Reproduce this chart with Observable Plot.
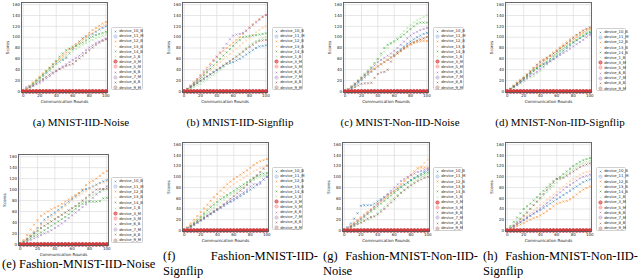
<!DOCTYPE html>
<html><head><meta charset="utf-8">
<script src="https://cdn.jsdelivr.net/npm/d3@7"></script>
<script src="https://cdn.jsdelivr.net/npm/@observablehq/plot@0.6"></script>
<style>
body{margin:0;width:640px;height:279px;background:#fff;position:relative;overflow:hidden;font-family:"DejaVu Sans",sans-serif;}
.panel{position:absolute;}
.panel svg{overflow:visible;}
.legend{position:absolute;box-sizing:border-box;border:0.6px solid #d0d0d0;border-radius:1.5px;background:#fff;padding:0.5px 0 0 1px;}
.legend .row{display:flex;align-items:center;white-space:nowrap;font-size:3.8px;color:#222;line-height:1;}
.legend svg{flex:none;margin-right:1.2px;}
.cap{position:absolute;font-family:"Liberation Serif",serif;font-size:11px;color:#000;white-space:nowrap;}
.cap.bottom{font-size:12.5px;}
.cap .l1{display:flex;justify-content:space-between;}
</style></head><body>
<script>
const rounds = [0,4,8,12,16,20,24,28,32,36,40,44,48,52,56,60,64,68,72,76,80,84,88,92,96,100];
const benign = ["device_10_B","device_12_B","device_13_B","device_14_B","device_1_B","device_6_B","device_8_B"];
const malicious = ["device_11_M","device_5_M","device_7_M","device_9_M","device_3_M"];
const legendOrder = ["device_10_B","device_11_M","device_12_B","device_13_B","device_14_B","device_1_B","device_3_M","device_5_M","device_6_B","device_7_M","device_8_B","device_9_M"];
const colors = ["#1f77b4","#aec7e8","#ff7f0e","#ffbb78","#2ca02c","#98df8a","#d62728","#ff9896","#9467bd","#c5b0d5","#8c564b","#c49c94"];
const xTicks = [0,20,40,60,80,100];
const yTicks = [0,20,40,60,80,100,120,140,160];
const malScores = [0,0,0,0,0,0,0,0,0,0,0,0,0,0,0,0,0,0,0,0,0,0,0,0,0,0];

// rows follow the order of `benign`
const scoresA = [
 [0,4,9,14,19,24,29,34,39,45,51,55,58,62,70,78,85,92,98,101,103,106,110,114,117,120],
 [0,5,10,16,21,27,33,38,44,50,55,60,66,72,78,83,88,92,97,102,108,113,117,121,125,128],
 [0,6,11,17,22,27,32,37,42,48,53,58,63,68,73,79,84,89,94,99,104,108,112,116,120,123],
 [0,4,9,14,19,25,31,37,43,50,56,64,70,76,79,81,84,87,90,94,98,101,104,106,108,110],
 [0,4,8,13,18,23,28,33,38,44,50,55,60,65,70,74,78,82,86,89,92,95,98,100,103,105],
 [0,8,9,10,13,16,20,24,28,33,37,42,46,50,54,58,62,66,71,76,81,85,89,92,95,97],
 [0,3,7,11,15,19,23,27,31,35,38,41,44,47,49,51,56,61,66,71,76,81,86,90,93,96]];
const scoresB = [
 [0,3,7,11,15,19,23,27,31,35,39,43,47,51,52,54,57,60,64,68,72,76,80,83,84,85],
 [0,5,11,17,23,30,37,44,51,58,64,70,75,80,85,90,95,100,106,112,118,124,129,134,138,141],
 [0,4,9,14,19,24,29,34,39,44,49,54,59,64,69,74,79,84,89,94,99,104,109,113,117,120],
 [0,4,9,14,19,24,30,36,42,48,54,60,66,72,78,84,90,95,100,101,102,103,104,105,106,107],
 [0,2,5,8,11,14,18,22,26,30,35,40,45,50,55,60,65,70,75,80,85,89,93,96,98,100],
 [0,5,10,16,22,28,34,40,48,56,64,72,80,88,96,103,105,106,108,112,117,122,127,132,137,141],
 [0,4,8,12,16,20,24,28,32,36,40,44,48,52,56,60,64,68,73,78,82,86,90,93,94,95]];
const scoresC = [
 [0,3,7,11,16,21,26,31,36,41,46,50,54,58,63,68,73,78,83,88,92,96,100,103,106,108],
 [0,4,9,14,19,24,29,34,38,42,46,50,54,58,62,66,70,74,78,82,86,89,91,92,93,93],
 [0,5,10,15,20,25,30,35,39,43,47,51,55,59,63,67,71,75,79,83,87,90,93,95,97,100],
 [0,3,8,13,19,25,31,37,44,52,60,70,80,86,89,92,96,100,105,110,115,120,125,127,127,127],
 [0,4,9,15,21,27,33,39,45,52,59,66,73,80,87,93,99,105,111,117,122,127,131,134,137,140],
 [0,4,9,14,19,24,30,36,42,48,54,58,62,66,70,75,80,86,92,98,103,107,110,113,115,117],
 [0,2,5,8,11,14,15,15,16,25,32,35,36,40,55,65,70,75,80,84,88,91,94,96,98,100]];
const scoresD = [
 [0,4,8,12,17,22,27,32,37,42,46,50,53,56,60,65,70,75,80,85,90,94,98,102,105,108],
 [0,5,10,15,20,25,30,35,40,45,50,55,60,65,70,75,80,84,88,92,96,100,104,108,112,115],
 [0,5,11,17,22,27,32,38,44,50,56,60,63,67,72,77,82,87,92,97,101,105,109,113,116,118],
 [0,4,9,14,19,24,29,34,39,43,47,51,55,60,65,70,75,79,83,87,91,95,99,103,107,110],
 [0,3,7,11,15,20,24,26,28,33,38,44,50,56,62,68,74,79,84,88,92,96,100,104,108,112],
 [0,4,8,12,16,20,24,28,32,36,41,46,51,55,59,63,67,71,75,79,83,87,91,95,100,104],
 [0,5,10,15,20,25,31,37,43,49,54,58,62,66,70,74,79,84,89,94,99,104,108,112,115,118]];
const scoresE = [
 [0,4,9,15,22,30,38,45,50,54,58,63,68,73,78,83,88,93,98,101,103,106,109,112,115,117],
 [0,8,17,27,36,44,52,56,60,64,67,70,74,78,82,86,90,94,100,108,113,116,120,125,130,134],
 [0,6,12,18,24,30,35,40,45,50,55,60,65,70,75,80,85,89,93,97,101,105,108,111,113,115],
 [0,3,7,11,15,18,22,26,30,34,38,42,46,50,55,60,65,70,74,77,78,78,78,79,84,85],
 [0,4,9,14,19,24,29,34,38,42,46,50,54,58,62,66,70,74,78,82,86,90,93,96,98,100],
 [0,2,5,8,11,14,17,20,23,26,30,34,38,43,48,53,58,63,68,73,79,85,91,96,101,106],
 [0,5,10,15,20,25,30,34,38,42,46,50,54,58,62,66,70,75,80,85,90,95,100,101,101,102]];
const scoresF = [
 [0,3,6,10,14,18,22,26,30,34,38,42,46,50,53,56,60,64,68,72,76,80,85,90,95,100],
 [0,6,13,20,27,34,41,48,55,62,68,74,80,86,91,96,100,104,108,112,117,122,126,129,131,133],
 [0,5,10,16,22,28,34,40,46,52,58,64,70,76,82,86,90,94,98,102,106,110,113,116,118,120],
 [0,4,9,14,19,25,31,37,43,48,53,58,62,66,70,74,78,82,86,90,94,98,101,104,106,107],
 [0,3,7,12,17,22,27,32,37,42,47,52,57,62,66,70,74,78,82,86,90,94,97,100,102,103],
 [0,3,7,11,15,19,23,27,31,35,39,43,47,51,55,59,63,67,71,76,82,86,86,87,95,100],
 [0,4,8,12,16,20,24,28,32,36,40,44,49,54,59,64,69,74,79,85,91,97,103,109,115,121]];
const scoresG = [
 [0,6,13,22,32,46,47,47,47,50,54,58,62,66,70,74,78,82,86,90,94,98,102,106,109,112],
 [0,4,9,14,19,24,29,34,39,44,49,54,59,64,69,74,80,86,92,98,104,110,116,117,117,117],
 [0,5,10,15,20,25,30,35,40,45,50,55,60,65,70,75,80,86,92,98,104,110,115,119,126,132],
 [0,3,7,11,15,20,25,30,35,40,45,50,55,60,65,70,75,80,85,89,93,97,100,103,106,108],
 [0,2,5,8,11,14,17,20,23,27,32,38,44,50,56,61,66,71,76,81,86,91,95,99,102,105],
 [0,4,8,12,17,22,27,32,38,44,50,56,62,68,74,80,86,92,96,100,103,106,109,111,113,115],
 [0,3,6,9,12,15,18,22,25,26,30,35,40,46,52,58,64,70,75,80,84,88,92,95,98,100]];
const scoresH = [
 [0,3,7,11,15,19,23,27,31,35,38,42,46,50,54,58,62,66,70,74,78,82,86,90,93,95],
 [0,2,5,8,11,14,17,20,23,25,28,32,36,40,45,50,52,54,55,58,62,67,72,76,79,82],
 [0,4,8,12,17,22,27,32,37,42,47,52,57,62,67,72,77,82,87,92,96,100,104,107,109,110],
 [0,8,16,24,32,40,45,50,56,62,68,74,80,86,92,96,100,105,110,115,120,124,128,131,133,135],
 [0,5,11,17,23,29,35,41,47,53,59,65,71,77,83,89,95,100,105,110,115,119,123,126,128,130],
 [0,4,8,12,16,20,24,28,32,36,41,46,51,56,61,66,71,76,81,85,89,93,97,100,102,104],
 [0,4,9,15,21,27,33,40,47,54,61,68,75,82,89,96,97,98,102,106,110,114,118,121,123,125]];

const panels = [
 {scores: scoresA, fx: 21,  fy: 2,   fw: 86, fh: 90, lx: 111, ly: 27,  lw: 32, lh: 63},
 {scores: scoresB, fx: 182, fy: 2,   fw: 85, fh: 90, lx: 272, ly: 27,  lw: 31, lh: 63},
 {scores: scoresC, fx: 343, fy: 2,   fw: 85, fh: 90, lx: 433, ly: 27,  lw: 31, lh: 63},
 {scores: scoresD, fx: 505, fy: 2,   fw: 86, fh: 90, lx: 596, ly: 28,  lw: 30, lh: 63},
 {scores: scoresE, fx: 18,  fy: 154, fw: 90, fh: 91, lx: 111, ly: 177, lw: 32, lh: 66},
 {scores: scoresF, fx: 182, fy: 142, fw: 86, fh: 89, lx: 272, ly: 167, lw: 31, lh: 63},
 {scores: scoresG, fx: 342, fy: 142, fw: 87, fh: 89, lx: 433, ly: 167, lw: 30, lh: 64},
 {scores: scoresH, fx: 505, fy: 142, fw: 86, fh: 89, lx: 596, ly: 167, lw: 30, lh: 64}
];

const mL = 21, mR = 2, mT = 2, mB = 14;

function benignRows(scores) {
  const out = [];
  benign.forEach((d, i) => scores[i].forEach((v, j) => out.push({device: d, round: rounds[j], score: v})));
  return out;
}
function malRows() {
  const out = [];
  malicious.forEach(d => malScores.forEach((v, j) => out.push({device: d, round: rounds[j], score: v})));
  return out;
}

panels.forEach(p => {
  const chart = Plot.plot({
    width: p.fw + mL + mR, height: p.fh + mT + mB,
    marginLeft: mL, marginRight: mR, marginTop: mT, marginBottom: mB,
    style: {fontSize: "4px", fontFamily: "DejaVu Sans, sans-serif", background: "white", color: "#222"},
    x: {domain: [-2, 102], ticks: xTicks, tickSize: 0, tickPadding: 1.5, label: "Communication Rounds",
        labelAnchor: "center", labelArrow: "none", labelOffset: 10},
    y: {domain: [-2, 164], ticks: yTicks, tickSize: 0, tickPadding: 1.5, label: "Scores",
        labelAnchor: "center", labelArrow: "none", labelOffset: 15},
    color: {domain: legendOrder, range: colors},
    marks: [
      Plot.gridX(xTicks, {stroke: "#dcdcdc", strokeOpacity: 1, strokeWidth: 0.7}),
      Plot.gridY(yTicks, {stroke: "#dcdcdc", strokeOpacity: 1, strokeWidth: 0.7}),
      Plot.dot(benignRows(p.scores), {x: "round", y: "score", stroke: "device", symbol: "times", r: 1.0, strokeWidth: 0.55}),
      Plot.dot(malRows(), {x: "round", y: "score", stroke: "device", fill: "device", fillOpacity: 0.8, r: 1.8, strokeWidth: 0.5}),
      Plot.frame({stroke: "#5a5a5a", strokeWidth: 0.9})
    ]
  });
  const wrap = document.createElement("div");
  wrap.className = "panel";
  wrap.style.left = (p.fx - mL) + "px";
  wrap.style.top = (p.fy - mT) + "px";
  wrap.appendChild(chart);
  document.body.appendChild(wrap);

  const lg = document.createElement("div");
  lg.className = "legend";
  Object.assign(lg.style, {left: p.lx + "px", top: p.ly + "px", width: p.lw + "px", height: p.lh + "px"});
  const rowH = (p.lh - 1.5) / legendOrder.length;
  legendOrder.forEach((name, i) => {
    const c = colors[i];
    const isM = name.endsWith("_M");
    const mk = isM
      ? `<circle cx="2.5" cy="2.5" r="1.7" fill="${c}" fill-opacity="0.55" stroke="${c}" stroke-width="0.5"/>`
      : `<path d="M1.7,1.7L3.3,3.3M3.3,1.7L1.7,3.3" stroke="${c}" stroke-width="0.55"/>`;
    const row = document.createElement("div");
    row.className = "row";
    row.style.height = rowH + "px";
    row.innerHTML = `<svg width="5" height="5" viewBox="0 0 5 5">${mk}</svg><span>${name}</span>`;
    lg.appendChild(row);
  });
  document.body.appendChild(lg);
});

const topCaps = [
  {text: "(a) MNIST-IID-Noise", cx: 81},
  {text: "(b) MNIST-IID-Signflip", cx: 240},
  {text: "(c) MNIST-Non-IID-Noise", cx: 400},
  {text: "(d) MNIST-Non-IID-Signflip", cx: 560}
];
topCaps.forEach(c => {
  const d = document.createElement("div");
  d.className = "cap";
  d.style.left = (c.cx - 80) + "px";
  d.style.width = "160px";
  d.style.textAlign = "center";
  d.style.top = "115.5px";
  d.style.lineHeight = "13px";
  d.textContent = c.text;
  document.body.appendChild(d);
});
const e = document.createElement("div");
e.className = "cap bottom";
e.style.left = "2px"; e.style.top = "258px"; e.style.lineHeight = "13px";
e.textContent = "(e) Fashion-MNIST-IID-Noise";
document.body.appendChild(e);

const wrapCaps = [
  {label: "(f)", first: "Fashion-MNIST-IID-", second: "Signflip", x: 163},
  {label: "(g)", first: "Fashion-MNIST-Non-IID-", second: "Noise", x: 323},
  {label: "(h)", first: "Fashion-MNIST-Non-IID-", second: "Signflip", x: 483}
];
wrapCaps.forEach(c => {
  const d = document.createElement("div");
  d.className = "cap bottom";
  d.style.left = c.x + "px"; d.style.top = "249px"; d.style.width = "155px"; d.style.lineHeight = "15px";
  d.innerHTML = `<div class="l1"><span>${c.label}</span><span>${c.first}</span></div><div>${c.second}</div>`;
  document.body.appendChild(d);
});
</script>
</body></html>
